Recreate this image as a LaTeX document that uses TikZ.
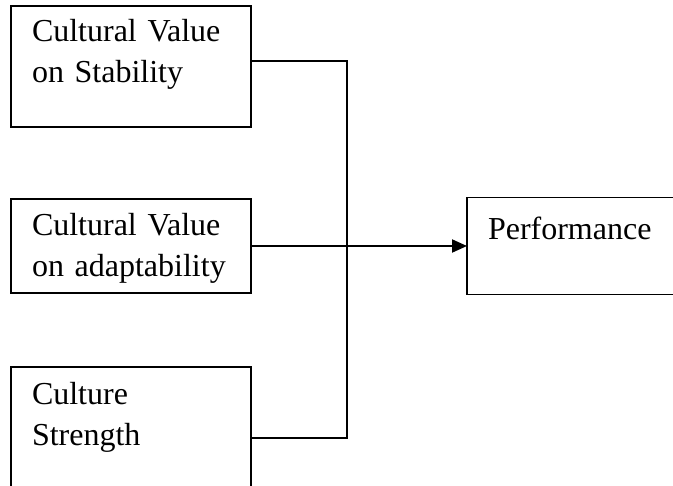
\documentclass[tikz,border=0pt]{standalone}
\usepackage{fontspec}
\setmainfont{Liberation Serif}
\usetikzlibrary{arrows.meta, positioning}

\begin{document}
\begin{tikzpicture}[
    x=1pt, y=-1pt,
    node distance=72pt,
    factor/.style={draw, line width=1.8pt, outer sep=0pt, inner xsep=21pt, inner ysep=0pt,
      anchor=north west, align=left, text width=198pt, font=\fontsize{32}{40.5}\selectfont},
    link/.style={line width=2pt},
    arrow/.style={link, -{Triangle[length=15pt, width=13pt]}}
  ]
  \useasboundingbox (0,0) rectangle (673,486);

  \node (stab) [factor, text height=36pt, text depth=85pt] at (11,6) {Cultural Value\\on Stability};
  \node (adapt) [factor, text height=37pt, text depth=57pt, below=72pt of stab] {Cultural Value\\on adaptability};
  \node (strength) [factor, text height=38pt, text depth=104pt, below=74pt of adapt] {Culture\\Strength};
  \node (perf) [factor, text width=181pt, text height=42pt, text depth=55pt, right=216pt of adapt] {Performance};

  \coordinate (joint) at (347,247);

  \draw[link] ([yshift=5.5pt]stab.east) -| (joint) |- (strength.east);
  \draw[arrow] (adapt) -- (perf);
\end{tikzpicture}
\end{document}
